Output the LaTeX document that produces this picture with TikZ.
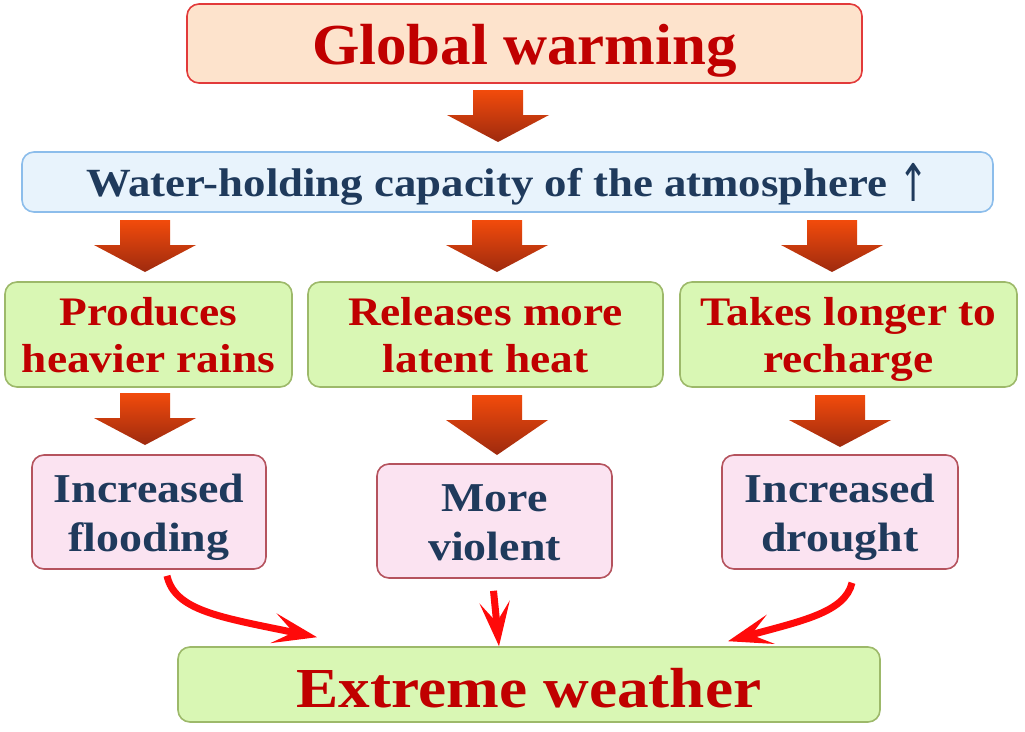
\documentclass[tikz,border=0pt]{standalone}
\usepackage{fontspec}
\usepackage{graphicx}
\setmainfont{Liberation Serif}
\newfontfamily\widefont[FakeStretch=1.12]{Liberation Serif}
\newfontfamily\gwfont[FakeStretch=1.05]{Liberation Serif}
\newfontfamily\arrowfont{DejaVu Sans}
\usetikzlibrary{arrows.meta,calc}
\newcommand\topstrut[1]{\rule{0pt}{#1}}
\newcommand\botstrut{\rule[-10pt]{0pt}{10pt}}
\definecolor{gwfill}{HTML}{FDE3CC}
\definecolor{gwline}{HTML}{E23A3A}
\definecolor{whfill}{HTML}{E8F3FC}
\definecolor{whline}{HTML}{8CBDEB}
\definecolor{grfill}{HTML}{D9F7B4}
\definecolor{grline}{HTML}{9DB96A}
\definecolor{pkfill}{HTML}{FBE3F1}
\definecolor{pkline}{HTML}{B5535E}
\definecolor{redtxt}{HTML}{C00000}
\definecolor{navytxt}{HTML}{1F3A5C}
\definecolor{arrtop}{HTML}{F24B0C}
\definecolor{arrbot}{HTML}{9E2A0E}
\definecolor{curvered}{HTML}{FF0A0A}
\begin{document}
\begin{tikzpicture}[x=1pt,y=-1pt,
  box/.style={draw,rounded corners=12pt,line width=1.6pt,inner sep=0pt,align=center},
  gwbox/.style={box,fill=gwfill,draw=gwline,text=redtxt},
  whbox/.style={box,fill=whfill,draw=whline,text=navytxt},
  grbox/.style={box,fill=grfill,draw=grline,text=redtxt,minimum height=105pt,
     font=\widefont\bfseries\fontsize{40.5}{47.7}\selectfont},
  pkbox/.style={box,fill=pkfill,draw=pkline,text=navytxt,minimum height=114pt,
     font=\widefont\bfseries\fontsize{41}{49}\selectfont},
  redarrow/.style={draw=curvered,line width=7pt,-{Stealth[length=44pt,width=30pt,inset=20pt]}},
  blockarrow/.pic={\shade[top color=arrtop,bottom color=arrbot]
     (-25,0) -- (25,0) -- (25,25) -- (51,25) -- (0,#1) -- (-51,25) -- (-25,25) -- cycle;},
]
\useasboundingbox (0,0) rectangle (1025,731);
\fill[white] (0,0) rectangle (1025,731);

\node[gwbox,minimum width=675pt,minimum height=79pt,text height=42pt,text depth=1pt,
  font=\gwfont\bfseries\fontsize{58}{64}\selectfont] (gw) at (524.5,43.5) {Global warming};
\node[whbox,minimum width=971pt,minimum height=60pt,text height=30pt,text depth=0.6pt,
  font=\widefont\bfseries\fontsize{40}{44}\selectfont] (wh) at (507.5,182)
  {Water-holding capacity of the atmosphere {\arrowfont\mdseries\raisebox{-5pt}{\scalebox{0.9}[1.3]{↑}}}};

\node[grbox,minimum width=287pt] (p1) at (148.5,334.5) {\topstrut{38.7pt}Produces\\heavier rains\botstrut};
\node[grbox,minimum width=355pt] (p2) at (485.5,334.5) {\topstrut{38.7pt}Releases more\\latent heat\botstrut};
\node[grbox,minimum width=337pt] (p3) at (848.5,334.5) {\topstrut{38.7pt}Takes longer to\\recharge\botstrut};

\node[pkbox,minimum width=234pt] (f1) at (149,512) {\topstrut{40.4pt}Increased\\flooding\botstrut};
\node[pkbox,minimum width=235pt] (f2) at (494.5,521) {\topstrut{39pt}More\\violent\botstrut};
\node[pkbox,minimum width=236pt] (f3) at (840,512) {\topstrut{40.4pt}Increased\\drought\botstrut};

\node[gwbox,fill=grfill,draw=grline,minimum width=702pt,minimum height=75pt,text height=47.4pt,text depth=1pt,
  font=\widefont\bfseries\fontsize{56.5}{62}\selectfont] (ew) at (529,684.5) {Extreme weather};

% block arrows
\pic at (498,90) {blockarrow=52};
\pic at (145,220) {blockarrow=52};
\pic at (497,220) {blockarrow=52};
\pic at (832,220) {blockarrow=52};
\pic at (145,393) {blockarrow=52};
\pic at (497,395) {blockarrow=60};
\pic at (840,395) {blockarrow=52};

% curved red arrows
\draw[redarrow] ($(f1.south)+(18,6)$) .. controls +(8,35) and +(-97,-20) .. ($(ew.north)+(-212,-9)$);
\draw[redarrow] ($(f2.south)+(-1,12)$) -- ($(ew.north)+(-30,0)$);
\draw[redarrow] ($(f3.south)+(12,13)$) .. controls +(-7,30) and +(72,-20) .. ($(ew.north)+(199,-5)$);
\end{tikzpicture}
\end{document}
